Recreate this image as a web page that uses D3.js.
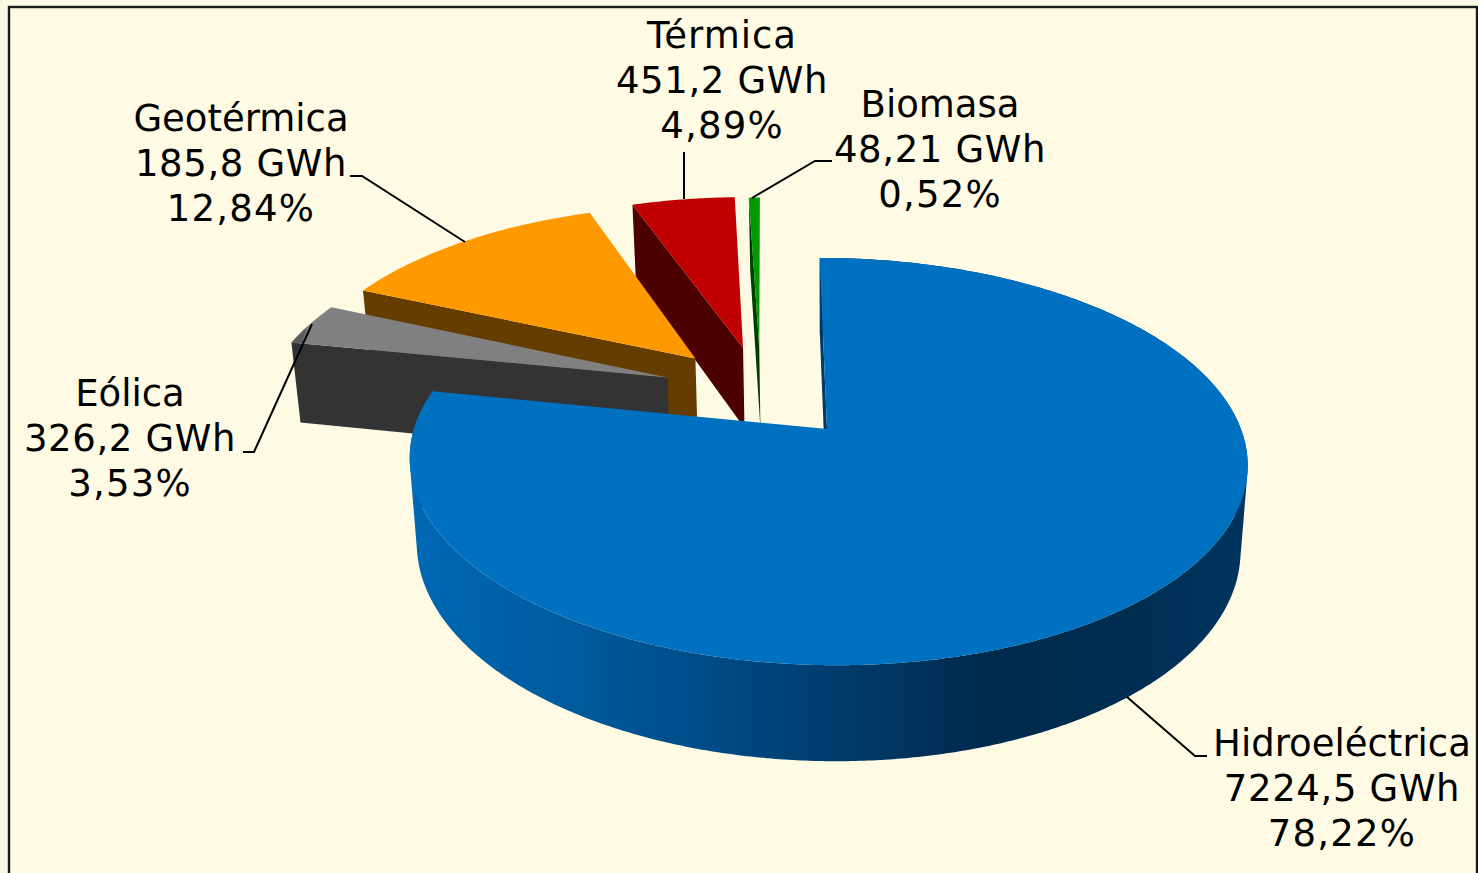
<!DOCTYPE html>
<html lang="es">
<head>
<meta charset="utf-8">
<title>Generación por fuente</title>
<script src="https://cdn.jsdelivr.net/npm/d3@7"></script>
<style>
html,body{margin:0;padding:0;background:#FDF8E3;overflow:hidden}
svg{display:block}
text{font-family:"DejaVu Sans",Verdana,sans-serif;fill:#000}
</style>
</head>
<body>
<div id="chart"></div>
<script>
// ---- data ----
const categories = ["Hidroeléctrica", "Eólica", "Geotérmica", "Térmica", "Biomasa"];
const energyGWh  = [7224.5, 326.2, 185.8, 451.2, 48.21];
const percents   = [78.22, 3.53, 12.84, 4.89, 0.52];

// ---- styling ----
const topColors  = ["#0070C0", "#808080", "#FF9900", "#C00000", "#009900"];
const sideColors = ["#003A66", "#333333", "#663D00", "#4D0000", "#003D00"];
const rimStops   = [[0,"#0068B5"],[0.18,"#005C9F"],[0.35,"#004C88"],[0.5,"#003D6E"],[0.68,"#002B4D"],[0.85,"#002D50"],[1,"#003560"]];

// ---- layout ----
const W = 1478, H = 873;
const cx = 827, cy = 429;            // pie centre on screen
const persp = 0.16, sx = 413.6, sz = 198.4;   // perspective and radii
const skew = 0.009;                  // slight roll of the pie plane
const shrink = 0.983, depth = 84;    // lower plane of the pie
const explode = [[0,0],[-0.402,0.2635],[-0.337,0.37],[-0.217,0.4325],[-0.175,0.43]]; // slice offsets
const arcShift = [0.004,0,0,0,0];    // hydro rim sits a little right of its apex
const labelAt = [[1342,755.5],[130,406],[241,131],[722,48],[940,117]]; // centre x, first baseline
const leaders = [
  [[1127,697],[1195,756],[1207,756]],
  [[312,324],[254,452],[243,452]],
  [[465,242],[362,176],[350,176]],
  [[684,199],[684,152]],
  [[752,198],[815,161],[832,161]]
];
const fontSize = 37, lineGap = 45.2;
const lineSpacing = [0, 0.65, 1.2];  // letter spacing of name, energy and percent lines
const nameSpacing = [0,0,0,1,0];

const deg = Math.PI/180;
const pie = d3.pie().value(d=>d).sort(null).startAngle(-1.4*deg).endAngle(358.6*deg);
const arcs = pie(percents);

function project(a, r, o, level){
  const x = o[0] + r*Math.sin(a), z = o[1] + r*Math.cos(a), w = 1 + persp*z;
  const px = sx*x/w, py = -sz*z/w + skew*sx*x/w;
  return level ? [cx+shrink*px, cy+shrink*py+depth/w] : [cx+px, cy+py];
}
const line = d3.line();
const angles = (a0,a1)=>{ const n=Math.max(2,Math.ceil((a1-a0)/deg)*2); const s=d3.scaleLinear().domain([0,n]).range([a0,a1]); return d3.range(n+1).map(s); };

const svg = d3.select("#chart").append("svg").attr("width",W).attr("height",H);
svg.append("rect").attr("x",9).attr("y",7).attr("width",W-10).attr("height",H+20)
   .attr("fill","#FFFAE4").attr("stroke","#1a1a1a").attr("stroke-width",2.4);

const grad = svg.append("defs").append("linearGradient").attr("id","rim")
  .attr("gradientUnits","userSpaceOnUse").attr("x1",410).attr("x2",1248).attr("y1",0).attr("y2",0);
grad.selectAll("stop").data(rimStops).join("stop").attr("offset",d=>d[0]).attr("stop-color",d=>d[1]);

// paint back to front
const order = d3.range(arcs.length).reverse();
order.forEach(i=>{
  const a = arcs[i], o = explode[i], g = svg.append("g").attr("class","slice");
  const rimO = [o[0]+arcShift[i], o[1]];
  const as = angles(a.startAngle,a.endAngle);
  if(i===0){
    // the rim is a ruled surface: one path of consistently wound quads, so overlaps stay filled
    const quads = d3.pairs(as).map(([t0,t1])=>{
      const q = [project(t0,1,rimO,0),project(t1,1,rimO,0),project(t1,1,rimO,1),project(t0,1,rimO,1)];
      return d3.polygonArea(q) < 0 ? q.reverse() : q;
    });
    g.append("path").attr("d",quads.map(q=>line(q)+"Z").join("")).attr("fill","url(#rim)").attr("fill-rule","nonzero");
  }
  const cut = [project(a.startAngle,1,rimO,0),project(0,0,o,0),project(0,0,o,1),project(a.startAngle,1,rimO,1)];
  g.append("path").attr("d",line(cut)+"Z").attr("fill",sideColors[i]);
  const topFace = [project(0,0,o,0)].concat(as.map(t=>project(t,1,rimO,0)));
  g.append("path").attr("d",line(topFace)+"Z").attr("fill",topColors[i]);
  if(i===1){ // darker facet on the outer corner of the Eólica slice
    const facet = [project(a.startAngle,1,o,0),project(a.startAngle+5.5*deg,1,o,0),project(a.startAngle,0.97,o,0)];
    g.append("path").attr("d",line(facet)+"Z").attr("fill","#5C5C5C");
  }
});

// leaders
svg.append("g").selectAll("path").data(leaders).join("path")
   .attr("d",d=>line(d)).attr("fill","none").attr("stroke","#000").attr("stroke-width",2);

// labels
const comma = s=>String(s).replace(".",",");
const lab = svg.append("g").selectAll("text").data(categories).join("text")
   .attr("text-anchor","middle").attr("font-size",fontSize);
lab.each(function(c,i){
  const [x,y] = labelAt[i];
  const lines = [c, comma(energyGWh[i])+" GWh", comma(percents[i].toFixed(2))+"%"];
  d3.select(this).selectAll("tspan").data(lines).join("tspan")
    .attr("x",x).attr("y",(d,j)=>y+j*lineGap)
    .attr("letter-spacing",(d,j)=>j===0?nameSpacing[i]:lineSpacing[j]).text(d=>d);
});
</script>
</body>
</html>
